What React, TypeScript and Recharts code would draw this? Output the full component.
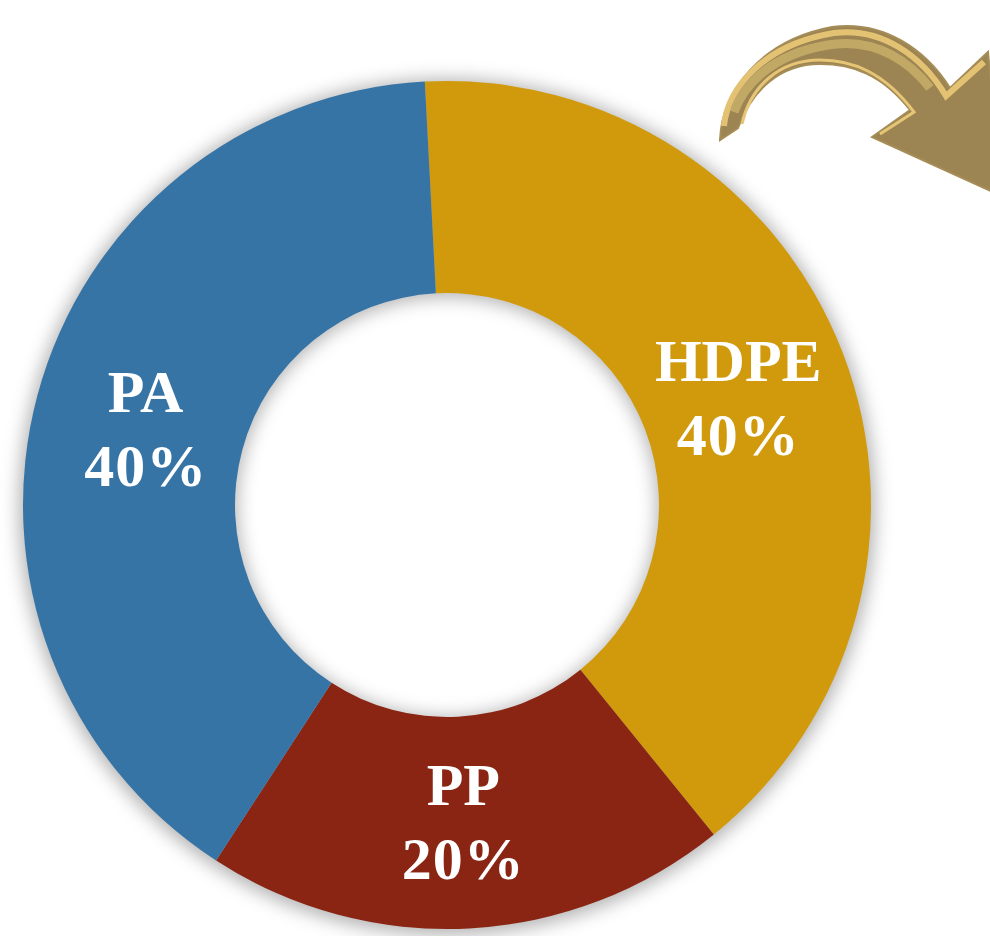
import { Cell, Pie, PieChart } from "recharts";

// material share
const materials = ["HDPE", "PP", "PA"];
const shares = [40, 20, 40];
const colors = ["#D09A0C", "#8A2413", "#3674A6"];

const data = materials.map((name, i) => ({ name, value: shares[i] }));
// single full ring used only to cast the soft shadow under the donut
const shadowRing = [{ name: "ring", value: 1 }];

const RAD = Math.PI / 180;

const renderLabel = (props: any) => {
  const { cx, cy, midAngle, innerRadius, outerRadius, name, value } = props;
  const r = (innerRadius + outerRadius) / 2 - 6;
  const x = cx + r * Math.cos(-midAngle * RAD);
  const y = cy + r * Math.sin(-midAngle * RAD);
  return (
    <text
      x={x}
      y={y}
      fill="#fff"
      textAnchor="middle"
      fontFamily="'Liberation Serif', serif"
      fontWeight="bold"
      fontSize={60}
    >
      <tspan x={x} dy={-12}>
        {name}
      </tspan>
      <tspan x={x} dy={74} letterSpacing={1}>
        {value}%
      </tspan>
    </text>
  );
};

function Arrow() {
  return (
    <svg
      width={990}
      height={936}
      style={{ position: "absolute", left: 0, top: 0, pointerEvents: "none" }}
    >
      <path
        d="M720,140 C722,90 762,40 832,27 C884,20 926,50 950,88 L988,52 L1002,196 L872,137 L910,110 C882,74 852,64 820,64 C780,64 752,90 738,128 Z"
        fill="#9C8552"
        stroke="#A68D57"
        strokeWidth={2}
      />
      <path
        d="M880,134 L914,112 C884,72 852,60 820,60 C778,60 750,88 742,124"
        fill="none"
        stroke="#E6C676"
        strokeWidth={3}
      />
      <path
        d="M724,126 C728,86 766,44 834,33 C882,27 922,56 946,96 L984,62"
        fill="none"
        stroke="#E3C373"
        strokeWidth={6}
      />
      <path
        d="M734,112 C746,78 782,50 836,44 C878,40 910,62 930,88"
        fill="none"
        stroke="#C9AE69"
        strokeWidth={9}
        opacity={0.85}
      />
    </svg>
  );
}

export default function App() {
  return (
    <div style={{ position: "absolute", left: 0, top: 0, width: 990, height: 936, background: "#fff" }}>
      <PieChart width={990} height={936} margin={{ top: 0, right: 0, bottom: 0, left: 0 }}>
        <defs>
          <filter id="ringShadow" x="-20%" y="-20%" width="140%" height="140%">
            <feGaussianBlur stdDeviation="9" />
          </filter>
        </defs>
        <Pie
          data={shadowRing}
          dataKey="value"
          cx={447}
          cy={507}
          innerRadius={210}
          outerRadius={428}
          fill="#000"
          fillOpacity={0.3}
          stroke="none"
          style={{ filter: "url(#ringShadow)" }}
          isAnimationActive={false}
          legendType="none"
        />
        <Pie
          data={data}
          dataKey="value"
          nameKey="name"
          cx={447}
          cy={505}
          innerRadius={212}
          outerRadius={424}
          startAngle={93}
          endAngle={-267}
          stroke="none"
          label={renderLabel}
          labelLine={false}
          isAnimationActive={false}
        >
          {data.map((_, idx) => (
            <Cell key={idx} fill={colors[idx]} />
          ))}
        </Pie>
      </PieChart>
      <Arrow />
    </div>
  );
}
